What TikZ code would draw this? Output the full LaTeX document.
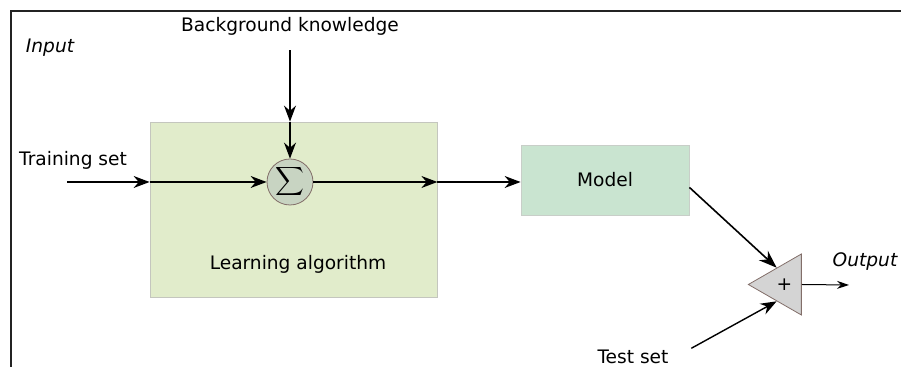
\documentclass[tikz,border=0pt]{standalone}
\usepackage{fontspec}
\setmainfont{DejaVu Sans}
\usetikzlibrary{positioning, arrows.meta, shapes.geometric, calc}
\definecolor{learnfill}{RGB}{225,236,203}
\definecolor{learnline}{RGB}{196,198,190}
\definecolor{modelfill}{RGB}{201,228,208}
\definecolor{modelline}{RGB}{200,206,200}
\definecolor{sumfill}{RGB}{200,212,194}
\definecolor{shapeline}{RGB}{130,110,105}
\definecolor{addfill}{RGB}{212,212,212}
\definecolor{framegray}{RGB}{35,35,35}

\tikzset{
    txt/.style={font=\fontsize{9.3}{11}\selectfont},
    txtit/.style={font=\fontsize{9.3}{11}\selectfont\itshape},
    block/.style={draw, rectangle, inner sep=0pt},
    arr/.style={-{Stealth[length=8pt, width=6pt]}, line width=0.7pt},
    arrbig/.style={-{Stealth[length=9pt, width=6.5pt]}, line width=0.8pt},
    arrsmall/.style={-{Stealth[length=6pt, width=4pt]}, line width=0.5pt},
}

\begin{document}
\begin{tikzpicture}[x=0.5pt, y=-0.5pt]
        \useasboundingbox (0,0) rectangle (901,367);
        \draw[framegray, line width=1.3pt] (11,367) -- (11,11) -- (901,11);

        \node[txtit] (input) at (50,48) {Input};
        \node[txt] (bk) at (290,26) {Background knowledge};
        \node[txt] (train) at (73,160) {Training set};
        \node[block, draw=learnline, fill=learnfill, minimum width=143.5pt, minimum height=87.5pt] (learn) at (293.5,209.5) {};
        \node[txt] (learntxt) at (298,264) {Learning algorithm};
        \node[circle, draw=shapeline, fill=sumfill, minimum size=23pt, inner sep=0pt] (sum) at (290,182) {$\displaystyle\sum$};
        \node[block, txt, draw=modelline, fill=modelfill, minimum width=84pt, minimum height=35pt] (model) at (605,180) {Model};
        \node[isosceles triangle, shape border rotate=180, isosceles triangle stretches, minimum width=30.5pt, minimum height=26.5pt, inner sep=0pt, draw=shapeline, fill=addfill, txt] (add) at (784.5,284.5) {+};
        \node[txtit] (output) at (865,262) {Output};
        \node[txt] (test) at (633,357) {Test set};
        \coordinate (tsin) at (67,182);
        \coordinate (out) at (849,285);

        \path[arr]
            (tsin) edge (learn.west |- sum)
            (learn.west |- sum) edge (sum)
            (bk) edge[shorten <=4pt] (learn.north -| sum)
            (learn.north -| sum) edge (sum)
            (sum) edge (learn.east |- sum)
            (learn.east |- sum) edge (model.west |- sum)
            (test.east) edge[shorten <=9pt] (add.245);
        \draw[arrbig] (model.-5) -- (add.115);
        \draw[arrsmall] (add.east) -- (out);
    \end{tikzpicture}
\end{document}
